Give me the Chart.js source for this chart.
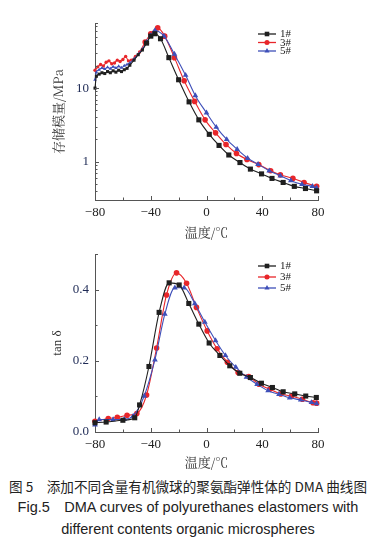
<!DOCTYPE html>
<html>
<head>
<meta charset="utf-8">
<script src="https://cdn.jsdelivr.net/npm/chart.js@4.4.1/dist/chart.umd.min.js"></script>
<style>
  body { margin: 0; background: #fff; width: 376px; height: 550px; position: relative; overflow: hidden; }
  #wrapTop { position: absolute; left: 0; top: 0; width: 376px; height: 240px; }
  #wrapBot { position: absolute; left: 0; top: 240px; width: 376px; height: 230px; }
  .cap { position: absolute; left: 0; width: 376px; text-align: center; color: #222; white-space: nowrap; }
  #cap1 { top: 476px; font: 13.6px "Noto Sans CJK SC", "Noto Sans", sans-serif; }
  #cap2 { top: 499px; font: 14.5px "Liberation Sans", Arial, sans-serif; }
  #cap3 { top: 521px; font: 14.5px "Liberation Sans", Arial, sans-serif; }
</style>
</head>
<body>
<div id="wrapTop"><canvas id="modulusChart"></canvas></div>
<div id="wrapBot"><canvas id="tanChart"></canvas></div>
<div class="cap" id="cap1">图 5&emsp;添加不同含量有机微球的聚氨酯弹性体的 DMA 曲线图</div>
<div class="cap" id="cap2">Fig.5&emsp;DMA curves of polyurethanes elastomers with</div>
<div class="cap" id="cap3">different contents organic microspheres</div>

<script>
// sample names
const seriesNames = ["1#", "3#", "5#"];

// storage modulus (MPa) vs temperature (°C)
const modTemp1 = [-80, -79, -77, -75, -73, -71, -69, -67, -65, -63, -61, -59, -57, -55, -52, -49, -46, -43, -40, -37, -33, -27, -20, -12.5, -5.5, 2, 9, 16, 24, 31.5, 39.5, 47, 55, 63, 71, 79];
const modVal1 = [10, 14.5, 15.5, 16.2, 15.8, 16.8, 16.2, 17.2, 16.5, 17.5, 16.8, 17.8, 18.6, 20.5, 24, 28.5, 33, 41, 51, 55, 47, 26, 13, 6.5, 3.7, 2.35, 1.66, 1.23, 0.97, 0.79, 0.68, 0.59, 0.52, 0.46, 0.43, 0.40];

const modTemp3 = [-80, -78, -76, -74, -72, -70, -68, -66, -64, -62, -60, -58, -56, -54, -51, -48, -44, -40, -35, -30, -23, -16, -8.5, -1, 6.5, 14, 21.5, 29, 37.5, 46, 53, 62, 70, 79];
const modVal3 = [17.5, 19.5, 21, 20, 22.5, 23.5, 21.5, 22, 24, 23, 24.5, 27, 23.5, 24, 27, 31, 42.5, 55, 66, 51, 26, 12.6, 6.6, 3.7, 2.46, 1.71, 1.29, 1.07, 0.91, 0.75, 0.66, 0.59, 0.52, 0.46];

const modTemp5 = [-80, -79, -77, -75, -73, -71, -69, -67, -65, -63, -61, -59, -57, -55, -52, -49, -46, -43, -40, -37, -30.5, -23, -15, -8, 0, 7, 14.5, 22, 29.5, 37, 45, 53, 60.5, 68.5, 76, 79];
const modVal5 = [13, 16.5, 17.8, 18.8, 18.2, 19.2, 18.4, 19.6, 18.8, 19.8, 19, 20.2, 21, 22, 25, 29, 34, 42, 52, 61, 51, 29, 15, 7.9, 4.6, 2.94, 2.0, 1.47, 1.11, 0.92, 0.75, 0.64, 0.55, 0.49, 0.46, 0.44];

// tan delta vs temperature (°C)
const tanTemp1 = [-80, -72, -60, -51.5, -48, -41.3, -34, -26.8, -19.6, -12.7, -5.5, 1.9, 9.6, 16.7, 23.9, 31.5, 39.4, 47.3, 55, 63.3, 71.2, 78.8];
const tanVal1 = [0.026, 0.028, 0.033, 0.04, 0.076, 0.184, 0.336, 0.419, 0.413, 0.361, 0.303, 0.25, 0.215, 0.186, 0.165, 0.153, 0.137, 0.125, 0.113, 0.107, 0.101, 0.097];

const tanTemp3 = [-80, -70.5, -64, -57, -50, -43, -35.8, -28.7, -21.5, -14.3, -7.2, 0.5, 7.6, 15, 22.7, 30.3, 37.7, 45.4, 53.3, 61, 68.8, 76.4, 79];
const tanVal3 = [0.03, 0.038, 0.041, 0.047, 0.052, 0.104, 0.236, 0.385, 0.447, 0.418, 0.35, 0.284, 0.234, 0.196, 0.167, 0.156, 0.134, 0.12, 0.107, 0.101, 0.092, 0.082, 0.081];

const tanTemp5 = [-80, -77, -67, -59, -52.6, -44.7, -37, -29.9, -22.7, -16, -8.4, -1.2, 6.5, 13.6, 21, 28.7, 36.3, 44.2, 52, 59.7, 67.6, 75.3, 79];
const tanVal5 = [0.02, 0.035, 0.035, 0.036, 0.045, 0.101, 0.203, 0.331, 0.405, 0.405, 0.361, 0.309, 0.257, 0.215, 0.182, 0.154, 0.134, 0.116, 0.106, 0.096, 0.09, 0.083, 0.08];

// tick values
const xMajorTicks = [-80, -40, 0, 40, 80];
const xMinorTicks = [-60, -20, 20, 60];
const modMajorTicks = [1, 10];
const modMinorTicks = [0.4, 0.5, 0.6, 0.7, 0.8, 0.9, 2, 3, 4, 5, 6, 7, 8, 9, 20, 30, 40, 50, 60, 70];
const tanMajorTicks = [0, 0.2, 0.4];
const tanMinorTicks = [0.1, 0.3];

const colors = ["#1f1f1f", "#e8262a", "#3e4fb9"];
const styles = ["rect", "circle", "triangle"];
const markerSize = [3.6, 2.8, 3.3];
const drawOrder = [0, 2, 1]; // black on top, then blue, then red

const serif = '"Liberation Serif", "Times New Roman", serif';

function pairs(xs, ys) {
  return xs.map((x, i) => ({ x: x, y: ys[i] }));
}

// inward tick marks, drawn from the chart's own scales
const inwardTicks = {
  id: "inwardTicks",
  afterDatasetsDraw(chart, args, opts) {
    const { ctx, chartArea: a, scales } = chart;
    ctx.save();
    ctx.strokeStyle = "#555";
    ctx.lineWidth = 1;
    const line = (x1, y1, x2, y2) => {
      ctx.beginPath();
      ctx.moveTo(x1, y1);
      ctx.lineTo(x2, y2);
      ctx.stroke();
    };
    opts.xMajor.forEach((v) => {
      const px = Math.round(scales.x.getPixelForValue(v)) + 0.5;
      line(px, a.bottom, px, a.bottom - 4);
    });
    opts.xMinor.forEach((v) => {
      const px = Math.round(scales.x.getPixelForValue(v)) + 0.5;
      line(px, a.bottom, px, a.bottom - 2.5);
    });
    opts.yMajor.forEach((v) => {
      const py = Math.round(scales.y.getPixelForValue(v)) + 0.5;
      line(a.left, py, a.left + 4, py);
    });
    opts.yMinor.forEach((v) => {
      const py = Math.round(scales.y.getPixelForValue(v)) + 0.5;
      line(a.left, py, a.left + 2.5, py);
    });
    line(a.left, a.top + 0.5, a.left + 3, a.top + 0.5);
    ctx.restore();
  },
};

// small legend inside the plot
const miniLegend = {
  id: "miniLegend",
  afterDraw(chart, args, opts) {
    const ctx = chart.ctx;
    ctx.save();
    chart.data.datasets.forEach((ds, i) => {
      const y = opts.rows[i];
      ctx.strokeStyle = ds.borderColor;
      ctx.lineWidth = 1.3;
      ctx.beginPath();
      ctx.moveTo(258, y);
      ctx.lineTo(276, y);
      ctx.stroke();
      ctx.fillStyle = ds.backgroundColor;
      Chart.helpers.drawPoint(ctx, { pointStyle: ds.pointStyle, radius: markerSize[i] * 0.9, rotation: 0, borderWidth: 0 }, 267, y);
      ctx.fillStyle = "#222";
      ctx.font = "11px " + serif;
      ctx.textBaseline = "middle";
      ctx.fillText(ds.label, 280, y + 0.5);
    });
    ctx.restore();
  },
};

function makeDatasets(temps, vals, denseLimit) {
  return temps.map((t, i) => ({
    label: seriesNames[i],
    data: pairs(t, vals[i]),
    order: drawOrder[i],
    borderColor: colors[i],
    backgroundColor: colors[i],
    borderWidth: 1.1,
    pointStyle: styles[i],
    pointRadius: (c) => (t[c.dataIndex] < denseLimit ? markerSize[i] * 0.6 : markerSize[i]),
    pointBorderWidth: 0,
    cubicInterpolationMode: "monotone",
    clip: 8,
  }));
}

function xScale(height) {
  return {
    type: "linear",
    min: -80,
    max: 80,
    afterBuildTicks: (s) => { s.ticks = xMajorTicks.map((v) => ({ value: v })); },
    afterFit: (s) => { s.height = height; },
    grid: { drawOnChartArea: false, drawTicks: false },
    border: { display: true, color: "#555", width: 1 },
    ticks: {
      padding: 5,
      color: "#222",
      font: { family: serif, size: 13 },
      maxRotation: 0,
      callback: (v) => (v < 0 ? "\u2212" + Math.abs(v) : String(v)),
    },
    title: { display: true, text: "温度/℃", color: "#333", font: { family: '"Noto Serif CJK SC", ' + serif, size: 13 }, padding: { top: 0, bottom: 0 } },
  };
}

Chart.defaults.animation = false;

new Chart(document.getElementById("modulusChart"), {
  type: "line",
  data: { datasets: makeDatasets([modTemp1, modTemp3, modTemp5], [modVal1, modVal3, modVal5], -45) },
  options: {
    responsive: true,
    maintainAspectRatio: false,
    layout: { padding: { left: 0, right: 58, top: 23, bottom: 0 } },
    plugins: {
      legend: { display: false },
      tooltip: { enabled: false },
      inwardTicks: { xMajor: xMajorTicks, xMinor: xMinorTicks, yMajor: modMajorTicks, yMinor: modMinorTicks },
      miniLegend: { rows: [34, 42.5, 51] },
    },
    scales: {
      x: xScale(40),
      y: {
        type: "logarithmic",
        min: 0.31,
        max: 77,
        afterBuildTicks: (s) => { s.ticks = modMajorTicks.map((v) => ({ value: v })); },
        afterFit: (s) => { s.width = 95; },
        grid: { drawOnChartArea: false, drawTicks: false },
        border: { display: true, color: "#555", width: 1 },
        ticks: { padding: 6, color: "#1e2a55", font: { family: serif, size: 13 }, callback: (v) => String(v) },
        title: { display: true, text: "存储模量/MPa", color: "#333", font: { family: '"Noto Serif CJK SC", ' + serif, size: 13 }, padding: { top: 50, bottom: 0 } },
      },
    },
  },
  plugins: [inwardTicks, miniLegend],
});

new Chart(document.getElementById("tanChart"), {
  type: "line",
  data: { datasets: makeDatasets([tanTemp1, tanTemp3, tanTemp5], [tanVal1, tanVal3, tanVal5], -1000) },
  options: {
    responsive: true,
    maintainAspectRatio: false,
    layout: { padding: { left: 0, right: 58, top: 14, bottom: 0 } },
    plugins: {
      legend: { display: false },
      tooltip: { enabled: false },
      inwardTicks: { xMajor: xMajorTicks, xMinor: xMinorTicks, yMajor: tanMajorTicks, yMinor: tanMinorTicks },
      miniLegend: { rows: [26, 37, 48] },
    },
    scales: {
      x: xScale(38),
      y: {
        type: "linear",
        min: 0,
        max: 0.5,
        afterBuildTicks: (s) => { s.ticks = tanMajorTicks.map((v) => ({ value: v })); },
        afterFit: (s) => { s.width = 95; },
        grid: { drawOnChartArea: false, drawTicks: false },
        border: { display: true, color: "#555", width: 1 },
        ticks: { padding: 6, color: "#1e2a55", font: { family: serif, size: 13 }, callback: (v) => v.toFixed(1) },
        title: { display: true, text: "tan δ", color: "#333", font: { family: serif, size: 13 }, padding: { top: 50, bottom: 0 } },
      },
    },
  },
  plugins: [inwardTicks, miniLegend],
});
</script>
</body>
</html>
